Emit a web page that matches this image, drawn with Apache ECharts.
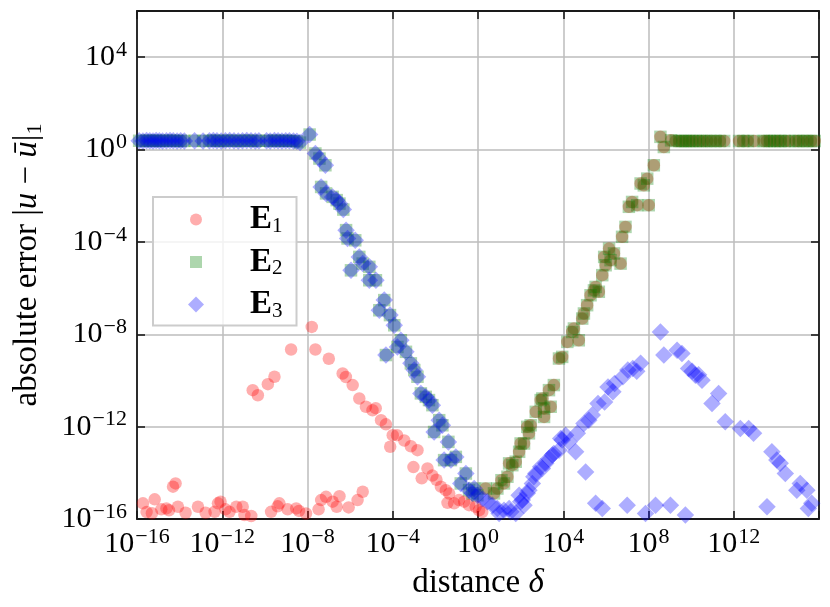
<!DOCTYPE html>
<html><head><meta charset="utf-8">
<script src="https://cdn.jsdelivr.net/npm/echarts@6/dist/echarts.min.js"></script>
<style>html,body{margin:0;padding:0;background:#fff}#c{width:830px;height:607px}</style>
</head><body><div id="c"></div>
<script>
// All values are [log10(delta), log10(error)].
const E1_small_delta = [
  [-15.72,-15.32],[-15.55,-15.70],[-15.17,-15.15],[-15.30,-15.75],[-14.86,-15.58],[-14.62,-15.54],
  [-14.50,-15.62],[-14.31,-14.60],[-14.19,-14.46],[-14.08,-15.47],[-13.72,-15.73],[-13.14,-15.47],
  [-12.78,-15.73],[-12.36,-15.69],[-12.20,-15.32],[-12.08,-15.25],[-11.85,-15.58],[-11.66,-15.69],
  [-11.34,-15.47],[-11.04,-15.47],[-10.96,-15.83],[-10.64,-15.87],[-9.71,-15.69],[-9.40,-15.45],
  [-9.32,-15.32],[-8.93,-15.58],[-8.53,-15.54],[-8.40,-15.65],[-8.07,-15.76],[-7.48,-15.58],
  [-7.36,-15.18],[-7.13,-15.04],[-6.82,-15.25],[-6.63,-15.47],[-6.50,-15.01],[-6.07,-15.50],
  [-5.65,-15.18],[-5.41,-14.82],
  [-10.57,-10.42],[-10.33,-10.64],[-9.86,-10.16],[-9.55,-9.84],[-8.77,-8.66],[-7.80,-7.68],
  [-7.63,-8.66],[-7.00,-9.06],[-6.35,-9.70],[-6.20,-9.85],[-5.88,-10.20],[-5.57,-10.78],
  [-5.26,-11.14],[-4.95,-11.29],[-4.80,-11.20],[-4.55,-11.72],[-4.32,-11.90],[-4.00,-12.37],
  [-3.80,-12.37],[-4.12,-12.87],[-3.46,-12.60],[-3.15,-12.85],[-2.84,-13.02],[-3.03,-13.75],
  [-2.64,-14.24],[-2.37,-13.81],[-2.14,-14.12],[-1.95,-14.30],[-1.74,-14.60],[-1.51,-14.75],
  [-1.35,-14.90],[-1.43,-15.30],[-1.12,-15.32],[-0.89,-15.18],[-0.65,-15.25],[-0.42,-15.40],
  [-0.11,-15.47],[0.05,-15.62],[0.20,-15.70]
];
// E2 and E3 coincide for delta < 1
const E2E3_small_delta = [
  [-15.90,0.38],[-15.72,0.37],[-15.55,0.39],[-15.40,0.38],[-15.25,0.37],[-15.10,0.39],[-14.95,0.38],
  [-14.80,0.37],[-14.62,0.38],[-14.45,0.39],[-14.30,0.38],[-14.12,0.37],[-13.95,0.38],[-13.78,0.37],
  [-13.30,0.38],[-12.90,0.37],[-12.60,0.38],[-12.42,0.39],[-12.25,0.38],[-12.05,0.37],[-11.85,0.38],
  [-11.65,0.39],[-11.45,0.38],[-11.25,0.37],[-11.05,0.38],[-10.85,0.39],[-10.65,0.38],[-10.45,0.37],
  [-10.28,0.38],[-9.92,0.38],[-9.75,0.37],[-9.55,0.39],[-9.38,0.38],[-9.20,0.37],[-9.02,0.38],
  [-8.85,0.38],[-8.66,0.37],[-8.50,0.36],[-8.35,0.30],[-7.90,0.65],
  [-7.63,-0.17],[-7.44,-0.39],[-7.16,-0.68],[-7.36,-1.62],[-7.13,-1.90],[-6.82,-2.05],[-6.63,-2.19],
  [-6.50,-2.34],[-6.32,-2.60],[-6.19,-3.49],[-6.12,-3.85],[-5.76,-3.93],[-5.57,-4.65],[-5.41,-4.94],
  [-5.10,-5.08],[-5.96,-5.23],[-5.10,-5.66],[-4.79,-5.66],[-4.40,-6.52],[-4.63,-6.96],[-4.13,-7.17],
  [-3.93,-7.61],[-4.32,-8.90],[-3.62,-8.26],[-3.78,-8.55],[-3.38,-8.76],[-3.15,-9.26],[-2.99,-9.55],
  [-2.84,-9.84],[-2.68,-10.56],[-2.45,-10.71],[-2.30,-10.85],[-2.14,-11.07],[-1.82,-11.72],
  [-1.67,-11.94],[-2.06,-12.23],[-1.39,-12.66],[-1.59,-13.45],[-1.27,-13.45],[-1.04,-13.31],
  [-0.57,-14.03],[-0.81,-14.46],[-0.42,-14.75],[-0.18,-14.68],[-0.26,-14.89],[-0.03,-14.97]
];
// E1 and E2 coincide for delta > 1
const E1E2_large_delta = [
  [0.36,-14.68],[0.75,-14.89],[0.91,-14.68],[1.22,-14.46],[1.10,-14.32],[1.38,-14.17],[1.46,-13.59],
  [1.61,-13.67],[1.77,-13.52],[1.93,-13.09],[2.00,-12.73],[2.16,-12.73],[2.31,-12.01],[2.39,-12.29],
  [2.47,-11.94],[2.71,-11.36],[3.10,-11.58],[2.94,-10.85],[3.02,-10.78],[3.10,-11.21],[3.41,-11.14],
  [3.33,-10.42],[3.56,-10.20],[3.80,-9.05],[3.95,-8.98],[4.19,-8.33],[4.42,-7.90],[4.50,-7.75],
  [4.73,-8.26],[4.89,-7.32],[4.97,-7.10],[5.12,-6.74],[5.28,-6.31],[5.44,-6.10],[5.52,-5.95],
  [5.67,-6.16],[5.83,-5.44],[5.92,-4.65],[5.99,-5.01],[6.15,-4.29],[6.22,-4.79],[6.38,-4.50],
  [6.69,-4.94],[6.76,-3.78],[6.92,-3.35],[7.08,-2.48],[7.23,-2.27],[7.47,-2.41],[7.63,-1.47],
  [7.78,-1.55],[7.94,-1.26],[8.01,-2.41],[8.25,-0.68],[8.56,0.55],[8.72,0.11],[9.06,0.40],
  [9.28,0.37],[9.45,0.37],[9.60,0.37],[9.75,0.37],[9.90,0.37],[10.05,0.37],[10.22,0.37],[10.40,0.37],
  [10.58,0.37],[10.75,0.37],[10.95,0.37],[11.15,0.37],[11.35,0.37],[11.55,0.37],
  [12.25,0.37],[12.45,0.37],[12.65,0.37],[12.95,0.37],
  [13.40,0.37],[13.55,0.37],[13.70,0.37],[13.90,0.37],[14.05,0.37],[14.20,0.37],[14.40,0.37],[14.60,0.37],
  [14.90,0.37],[15.05,0.37],[15.25,0.37],[15.45,0.37],[15.62,0.37],[15.80,0.37]
];
const E3_large_delta = [
  [0.21,-15.11],[0.44,-15.25],[0.68,-15.40],[0.91,-15.54],[0.99,-15.76],[1.22,-15.62],[1.46,-15.54],
  [1.54,-15.69],[1.77,-15.76],[2.00,-15.25],[2.16,-15.40],[1.93,-14.97],[2.08,-15.18],[2.31,-14.89],
  [2.39,-14.75],[2.55,-14.46],[2.62,-14.17],[2.71,-14.03],[3.02,-13.81],[3.18,-13.59],[2.94,-13.74],
  [3.33,-13.38],[3.49,-13.23],[3.56,-13.16],[3.80,-13.02],[3.88,-12.51],[3.95,-12.58],[4.11,-12.37],
  [4.27,-12.66],[4.58,-13.09],[4.66,-12.29],[4.97,-11.86],[5.20,-11.72],[5.36,-11.50],[5.05,-13.96],
  [5.63,-11.00],[5.94,-10.93],[6.10,-10.28],[6.33,-10.49],[6.41,-10.13],[6.80,-9.84],[7.03,-9.55],
  [7.26,-9.48],[7.45,-9.60],[7.63,-9.26],[8.56,-7.90],[8.72,-8.90],[9.34,-8.69],[9.57,-8.83],
  [9.88,-9.48],[10.05,-9.60],[10.20,-9.77],[10.35,-9.75],[10.51,-9.99],[10.98,-11.00],[11.29,-10.56],
  [11.60,-11.79],[12.31,-12.08],[12.70,-12.08],[12.93,-12.29],[13.79,-13.09],[14.02,-13.45],
  [14.18,-13.59],[14.42,-14.03],[14.96,-14.75],[15.12,-14.46],[15.43,-14.75],[15.66,-15.32],
  [15.50,-15.54],[13.56,-15.47],[5.52,-15.32],[5.83,-15.54],[7.00,-15.40],[7.86,-15.76],
  [8.33,-15.40],[9.03,-15.40],[9.73,-15.83]
];
const seriesNames = ['E1','E2','E3'];
const xTickExp = [-16,-12,-8,-4,0,4,8,12];
const yTickExp = [-16,-12,-8,-4,0,4];

const toPts = arr => arr.map(p => [Math.pow(10, p[0]), Math.pow(10, p[1])]);
const dataE1 = toPts(E1_small_delta.concat(E1E2_large_delta));
const dataE2 = toPts(E2E3_small_delta.concat(E1E2_large_delta));
const dataE3 = toPts(E2E3_small_delta.concat(E3_large_delta));

const SERIF = 'Liberation Serif';
const labelRich = {
  b: {fontFamily: SERIF, fontSize: 30, lineHeight: 36, color: '#000'},
  s: {fontFamily: SERIF, fontSize: 22, lineHeight: 20, verticalAlign: 'top', color: '#000', padding: [0,0,0,1]}
};
function expLabel(v, allowed) {
  const e = Math.round(Math.log10(v));
  if (allowed.indexOf(e) < 0) return '';
  return '{b|10}{s|' + (e < 0 ? '\u2212' + (-e) : e) + '}';
}
const gridColor = '#bdbdbd';
const frame = {show: true, lineStyle: {color: '#1a1a1a', width: 1.8}};
const tickIn = {show: true, inside: true, length: 8, lineStyle: {color: '#1a1a1a', width: 1.6}};

const chart = echarts.init(document.getElementById('c'), null, {renderer: 'canvas'});
chart.setOption({
  animation: false,
  backgroundColor: '#fff',
  grid: {left: 137, right: 11, top: 11, bottom: 88, containLabel: false},
  legend: {
    data: [
      {name: 'E1', icon: 'path://M0,0M16,16M2,8a6,6 0 1,0 12,0a6,6 0 1,0 -12,0z'},
      {name: 'E2', icon: 'path://M0,0M16,16M2,2h12v12h-12z'},
      {name: 'E3', icon: 'diamond'}
    ],
    orient: 'vertical', left: 153, top: 197,
    itemWidth: 16, itemHeight: 16, itemGap: 9,
    padding: [6, 14, 4, 35],
    backgroundColor: 'rgba(255,255,255,0.8)', borderColor: '#cccccc', borderWidth: 2, borderRadius: 0,
    formatter: n => '{e|E}{n|' + n.slice(1) + '}',
    textStyle: {
      rich: {
        e: {fontFamily: SERIF, fontWeight: 'bold', fontSize: 33, lineHeight: 34, color: '#000', padding: [0,0,0,41]},
        n: {fontFamily: SERIF, fontSize: 21, lineHeight: 22, verticalAlign: 'bottom', color: '#000'}
      }
    }
  },
  xAxis: [{
    type: 'log', logBase: 10, min: 1e-16, max: 1e16, interval: 4,
    name: 'distance {i|\u03b4}', nameLocation: 'middle', nameGap: 42,
    nameTextStyle: {fontFamily: SERIF, fontSize: 33, lineHeight: 38, color: '#000',
      rich: {i: {fontFamily: SERIF, fontStyle: 'italic', fontSize: 33, lineHeight: 38, color: '#000'}}},
    axisLine: frame, axisTick: tickIn, minorTick: {show: false},
    axisLabel: {margin: 7, formatter: v => expLabel(v, xTickExp), rich: labelRich, showMinLabel: true, showMaxLabel: true},
    splitLine: {show: true, lineStyle: {color: gridColor, width: 1.5}}
  }, {
    type: 'log', logBase: 10, min: 1e-16, max: 1e16, interval: 4, position: 'top',
    axisLine: frame, axisTick: tickIn, axisLabel: {show: false}, splitLine: {show: false}
  }],
  yAxis: [{
    type: 'log', logBase: 10, min: 1e-16, max: 1e6, interval: 4,
    name: 'absolute error |{i|u} \u2212 {i|\u016b}|{sub|1}', nameLocation: 'middle', nameRotate: 90, nameGap: 91,
    nameTextStyle: {fontFamily: SERIF, fontSize: 33, lineHeight: 38, color: '#000',
      rich: {
        i: {fontFamily: SERIF, fontStyle: 'italic', fontSize: 33, lineHeight: 38, color: '#000'},
        sub: {fontFamily: SERIF, fontSize: 22, lineHeight: 24, verticalAlign: 'bottom', color: '#000'}
      }},
    axisLine: frame, axisTick: tickIn, minorTick: {show: false},
    axisLabel: {margin: 10, formatter: v => expLabel(v, yTickExp), rich: labelRich, showMinLabel: true, showMaxLabel: true},
    splitLine: {show: true, lineStyle: {color: gridColor, width: 1.5}}
  }, {
    type: 'log', logBase: 10, min: 1e-16, max: 1e6, interval: 4, position: 'right',
    axisLine: frame, axisTick: tickIn, axisLabel: {show: false}, splitLine: {show: false}
  }],
  series: [
    {name: seriesNames[0], type: 'scatter', symbol: 'circle', symbolSize: 12.5, data: dataE1,
     itemStyle: {color: 'rgba(255,0,0,0.4)', borderWidth: 0}, emphasis: {disabled: true}},
    {name: seriesNames[1], type: 'scatter', symbol: 'rect', symbolSize: 12.5, data: dataE2,
     itemStyle: {color: 'rgba(0,128,0,0.4)', borderWidth: 0}, emphasis: {disabled: true}},
    {name: seriesNames[2], type: 'scatter', symbol: 'diamond', symbolSize: 17.5, data: dataE3,
     itemStyle: {color: 'rgba(0,0,255,0.4)', borderWidth: 0}, emphasis: {disabled: true}}
  ]
});
</script>
</body></html>
